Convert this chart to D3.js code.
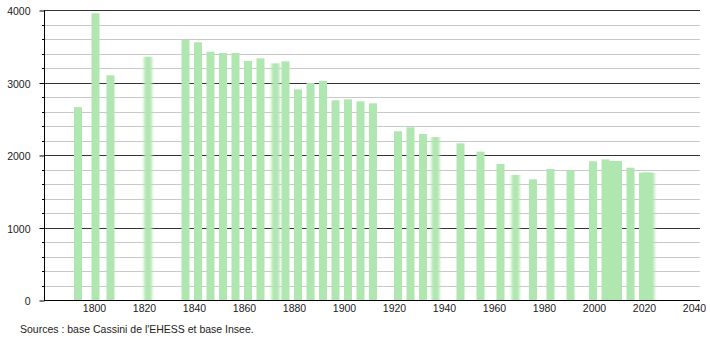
<!DOCTYPE html>
<html>
<head>
<meta charset="utf-8">
<script src="https://cdn.jsdelivr.net/npm/d3@7"></script>
<style>
  body { margin: 0; background: #fff; }
  svg text { font-family: "Liberation Sans", Arial, sans-serif; fill: #222; }
</style>
</head>
<body>
<svg id="chart" width="710" height="340"></svg>
<script>
// census years and population
var years = [1793, 1800, 1806, 1821, 1836, 1841, 1846, 1851, 1856, 1861, 1866, 1872, 1876,
             1881, 1886, 1891, 1896, 1901, 1906, 1911, 1921, 1926, 1931, 1936, 1946, 1954,
             1962, 1968, 1975, 1982, 1990, 1999, 2004, 2007, 2008, 2009, 2014,
             2019, 2020, 2021, 2022];
var population = [2660, 3955, 3100, 3356, 3591, 3554, 3425, 3407, 3407, 3297, 3333, 3264, 3292,
                  2906, 2993, 3021, 2754, 2768, 2740, 2713, 2327, 2382, 2290, 2248, 2161, 2046,
                  1875, 1724, 1665, 1807, 1789, 1913, 1940, 1917, 1917, 1917, 1825,
                  1756, 1756, 1756, 1756];
var xTicks = [1800, 1820, 1840, 1860, 1880, 1900, 1920, 1940, 1960, 1980, 2000, 2020, 2040];
var yTicks = [0, 1000, 2000, 3000, 4000];
var yMinor = [200, 400, 600, 800, 1200, 1400, 1600, 1800, 2200, 2400, 2600, 2800, 3200, 3400, 3600, 3800];
var sourceText = "Sources : base Cassini de l'EHESS et base Insee.";

// bars that look smeared in the original
var fuzzy = [1821, 1872, 1936, 1968, 2022];

var svg = d3.select("#chart");
var m = {left: 44, right: 700, top: 10, bottom: 300};

var x = d3.scaleLinear().domain([1780, 2042.4]).range([m.left, m.right]);
var y = d3.scaleLinear().domain([0, 4000]).range([m.bottom, m.top]);

var defs = svg.append("defs");
defs.append("filter").attr("id", "smear")
    .attr("x", "-50%").attr("width", "200%")
  .append("feGaussianBlur").attr("stdDeviation", "1.6 0");

// grid
svg.append("g").selectAll("line")
  .data(yMinor)
  .enter().append("line")
    .attr("x1", m.left).attr("x2", m.right)
    .attr("y1", function(d) { return Math.round(y(d)) + 0.5; })
    .attr("y2", function(d) { return Math.round(y(d)) + 0.5; })
    .attr("stroke", "#c8c8c8").attr("stroke-width", 1);

svg.append("g").selectAll("line")
  .data(yTicks.slice(1))
  .enter().append("line")
    .attr("x1", m.left).attr("x2", m.right)
    .attr("y1", function(d) { return Math.round(y(d)) + 0.5; })
    .attr("y2", function(d) { return Math.round(y(d)) + 0.5; })
    .attr("stroke", "#333").attr("stroke-width", 1);

// bars
var data = years.map(function(d, i) { return {year: d, pop: population[i]}; });
svg.append("g").selectAll("rect")
  .data(data)
  .enter().append("rect")
    .attr("x", function(d) { return x(d.year) - 2.5; })
    .attr("y", function(d) { return y(d.pop); })
    .attr("width", 8)
    .attr("height", function(d) { return y(0) - y(d.pop); })
    .attr("fill", "#b0e6b0")
    .attr("filter", function(d) { return fuzzy.indexOf(d.year) >= 0 ? "url(#smear)" : null; });

// left axis
var yAxis = d3.axisLeft(y).tickValues(yTicks).tickSize(5).tickPadding(9).tickFormat(d3.format("d"));
var ga = svg.append("g")
    .attr("transform", "translate(" + (m.left + 0.5) + ",0.5)")
    .call(yAxis);
ga.select(".domain").attr("stroke", "#000").attr("d", "M0," + m.top + "V" + m.bottom);
ga.selectAll(".tick line").attr("stroke", "#000");
ga.selectAll("text").attr("font-size", 10.5).attr("dy", "0.4em")
  .attr("font-family", "Liberation Sans, Arial, sans-serif").attr("fill", "#222");

svg.append("g").selectAll("line")
  .data(yMinor)
  .enter().append("line")
    .attr("x1", m.left - 2).attr("x2", m.left)
    .attr("y1", function(d) { return Math.round(y(d)) + 0.5; })
    .attr("y2", function(d) { return Math.round(y(d)) + 0.5; })
    .attr("stroke", "#000");

// bottom axis
var xAxis = d3.axisBottom(x).tickValues(xTicks).tickSize(0).tickPadding(4).tickFormat(d3.format("d"));
var gb = svg.append("g")
    .attr("transform", "translate(0," + (m.bottom + 0.5) + ")")
    .call(xAxis);
gb.select(".domain").attr("stroke", "#000").attr("d", "M" + m.left + ",0H" + m.right);
gb.selectAll("text").attr("font-size", 10.5)
  .attr("font-family", "Liberation Sans, Arial, sans-serif").attr("fill", "#222");

svg.append("text")
    .attr("x", 20).attr("y", 333)
    .attr("font-size", 10.5)
    .text(sourceText);
</script>
</body>
</html>
